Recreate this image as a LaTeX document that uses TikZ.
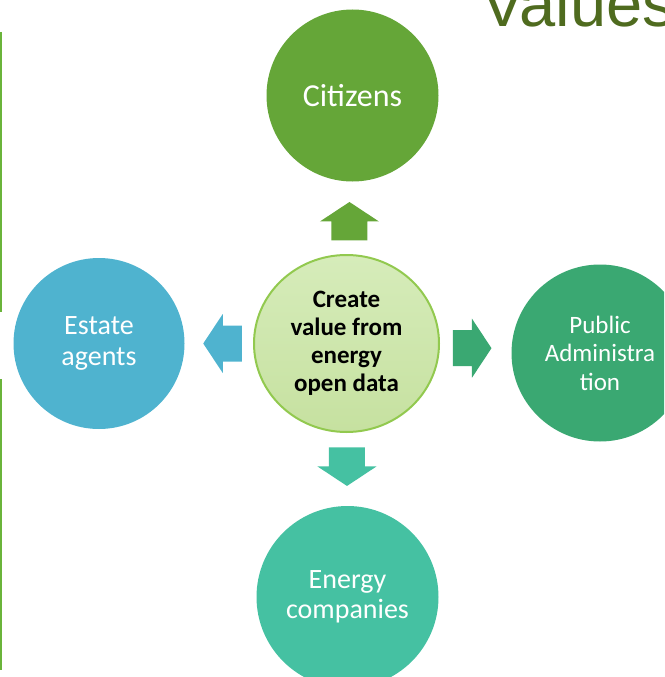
\documentclass[tikz,border=0pt]{standalone}
\usepackage{fontspec}
\setmainfont{Carlito}
\newfontfamily\headfont{Liberation Sans}
\usetikzlibrary{calc,shapes.geometric}

\definecolor{citizengreen}{HTML}{65A638}
\definecolor{estateblue}{HTML}{4FB3CF}
\definecolor{publicgreen}{HTML}{3AA872}
\definecolor{energyteal}{HTML}{45C1A2}
\definecolor{hubtop}{HTML}{D6ECBA}
\definecolor{hubbottom}{HTML}{C6E1A0}
\definecolor{hubrim}{HTML}{92C94F}
\definecolor{headgreen}{HTML}{4F6B1F}
\definecolor{bargreen}{HTML}{6AB43A}

\begin{document}
\begin{tikzpicture}[x=1pt,y=-1pt,
        bubble/.style={circle, inner sep=0pt, text=white, align=center},
        blockarrow/.pic={\fill[#1] (-19,-18) -- (0,-18) -- (0,-29.5) -- (19.5,0)
                -- (0,29.5) -- (0,18) -- (-19,18) -- cycle;}]

        \useasboundingbox (0,0) rectangle (664,677);
        \clip (0,0) rectangle (664,677);

        % heading, cut off by the page edge
        \node[anchor=base west, inner sep=0pt, text=headgreen,
                font=\headfont\fontsize{65}{65}\selectfont] (head) at (481,27) {Values};

        % bar on the left
        \draw [bargreen, line width=2pt] (1,32) -- (1,312);
        \draw [bargreen, line width=2pt] (1,379) -- (1,670);

        % centre
        \node[ellipse, minimum width=185, minimum height=177, inner sep=0pt,
                top color=hubtop, bottom color=hubbottom, draw=hubrim, line width=2pt,
                align=center, font=\bfseries\fontsize{25}{28}\selectfont] (hub) at (346.5,343.5)
                {Create\\value from\\energy\\open data};

        % the four groups
        \node[bubble, fill=citizengreen, minimum size=172,
                font=\fontsize{32}{36}\selectfont] (citizens) at (352.5,95.5) {Citizens};
        \node[bubble, fill=estateblue, minimum size=171,
                font=\fontsize{28}{31}\selectfont] (estate) at (99,343.5) {Estate\\agents};
        \node[bubble, fill=publicgreen, minimum size=177,
                font=\fontsize{25}{28.5}\selectfont] (public) at (600,353) {Public\\Administra\\tion};
        \node[bubble, fill=energyteal, minimum size=182,
                font=\fontsize{28}{30}\selectfont] (energy) at (347.5,597) {Energy\\companies};

        % block arrows out of the centre
        \pic[rotate=90] at ($(hub)!0.492!(citizens)$) {blockarrow=citizengreen};
        \pic[rotate=180] at ($(hub)!0.5!(estate)$) {blockarrow=estateblue};
        \pic at ($(hub)!0.495!(public)$) {blockarrow=publicgreen};
        \pic[rotate=-90] at ($(hub)!0.485!(energy)$) {blockarrow=energyteal};

\end{tikzpicture}
\end{document}
